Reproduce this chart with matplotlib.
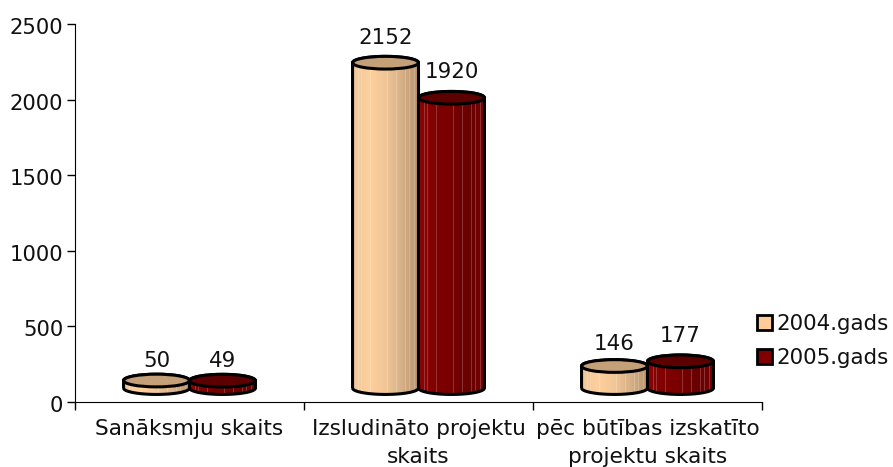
import numpy as np
import matplotlib
matplotlib.use('Agg')
import matplotlib.pyplot as plt
from matplotlib.colors import to_rgb
from matplotlib.patches import Ellipse, PathPatch, Patch
from matplotlib.path import Path
from matplotlib.transforms import ScaledTranslation

categories = ['Sanāksmju skaits', 'Izsludināto projektu\nskaits', 'pēc būtības izskatīto\nprojektu skaits']
values_2004 = [50, 2152, 146]
values_2005 = [49, 1920, 177]
series_names = ['2004.gads', '2005.gads']

# look of the cylinders
base = 92
cap = 84
bar_w = 0.288
side_2004 = ['#eec79b', '#ffd09c', '#f0c696', '#d6af86', '#b8936c']
side_2005 = ['#8a0505', '#800000', '#780000', '#680000', '#760303']
top_2004 = '#c4a079'
top_2005 = '#5c0000'
stripes = [0.08, 0.13, 0.27, 0.41, 0.52, 0.66, 0.71, 0.8, 0.86, 0.93]
# how far each number sits above its cap, pixels
lift_2004 = [20, 25, 22]
lift_2005 = [19.5, 26, 25]

W, H = 893, 467
fig = plt.figure(figsize=(W / 100, H / 100), dpi=100)
ax = fig.add_axes([75 / W, (H - 402) / H, 687 / W, 378 / H])
plt.rcParams['font.family'] = 'DejaVu Sans'


def side_colors(stops):
    rgb = np.array([to_rgb(c) for c in stops])
    pos = np.linspace(0, 1, len(stops))
    t = np.linspace(0, 1, 200)
    img = np.stack([np.interp(t, pos, rgb[:, i]) for i in range(3)], axis=1)
    for s in stripes:
        k = int(s * 199)
        img[k:k + 2] = img[k:k + 2] * 0.8 + 0.2
    return img[np.newaxis, :, :]


def cylinder(cx, value, stops, top_color, lift):
    top = base + value
    a = np.linspace(np.pi, 2 * np.pi, 40)
    xs = cx + bar_w / 2 * np.cos(a)
    ys = base + cap / 2 * np.sin(a)
    a2 = np.linspace(0, np.pi, 40)
    xs = np.concatenate([xs, cx + bar_w / 2 * np.cos(a2), xs[:1]])
    ys = np.concatenate([ys, top + cap / 2 * np.sin(a2), ys[:1]])
    outline = Path(np.column_stack([xs, ys]))
    im = ax.imshow(side_colors(stops), aspect='auto', zorder=3, interpolation='nearest',
                   extent=[cx - bar_w / 2, cx + bar_w / 2, base - cap, top + cap])
    body = PathPatch(outline, fc='none', ec='black', lw=2.2, zorder=3, joinstyle='round')
    ax.add_patch(body)
    im.set_clip_path(body)
    ax.add_patch(Ellipse((cx, top), bar_w, cap, fc=top_color, ec='black', lw=2.2, zorder=3))
    ax.annotate(str(value), (cx, top), xytext=(0, lift * 0.72), textcoords='offset points',
                ha='center', va='center', fontsize=15.4, color='#111111', zorder=5)


for i in range(len(categories)):
    cylinder(i + 0.5 - bar_w / 2, values_2004[i], side_2004, top_2004, lift_2004[i])
    cylinder(i + 0.5 + bar_w / 2, values_2005[i], side_2005, top_2005, lift_2005[i])

ax.set_xlim(0, 3)
ax.set_ylim(0, 2500)
ax.set_yticks(range(0, 2501, 500))
ax.set_xticks([0, 1, 2, 3])
ax.set_xticklabels([])
ax.set_xticks([0.5, 1.5, 2.5], minor=True)
ax.set_xticklabels(categories, minor=True, fontsize=15.6, color='#111111', linespacing=1.5)
ax.tick_params(axis='x', which='minor', length=0, pad=12)
ax.tick_params(axis='x', which='major', length=5.5, width=1)
ax.tick_params(axis='y', length=5.5, width=1, labelsize=15.2, pad=3, labelcolor='#111111')
ax.spines['top'].set_visible(False)
ax.spines['right'].set_visible(False)
ax.set_axisbelow(False)

# y numbers sit a little under their ticks in the original
for lab in ax.get_yticklabels():
    lab.set_transform(lab.get_transform() + ScaledTranslation(0, -2 / 100, fig.dpi_scale_trans))

handles = [Patch(fc='#ffcc99', ec='black', lw=2), Patch(fc='#800000', ec='black', lw=2)]
fig.legend(handles, series_names, loc='center left', bbox_to_anchor=(757 / W, 1 - 341 / H),
           frameon=False, fontsize=15.4, handlelength=0.7, handleheight=0.7, handletextpad=0.2,
           labelspacing=0.62, borderpad=0, borderaxespad=0, labelcolor='#111111')

fig.savefig('out.png', dpi=100)
